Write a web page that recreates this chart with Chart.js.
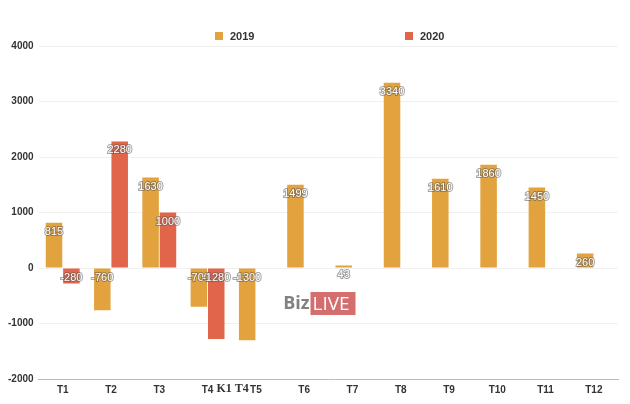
<!DOCTYPE html>
<html>
<head>
<meta charset="utf-8">
<script src="https://cdn.jsdelivr.net/npm/chart.js@4"></script>
<style>
  html, body { margin: 0; padding: 0; background: #fff; }
  #wrap { width: 630px; height: 404px; }
</style>
</head>
<body>
<div id="wrap"><canvas id="chart" width="630" height="404"></canvas></div>
<script>
const months = ["T1", "T2", "T3", "T4", "T5", "T6", "T7", "T8", "T9", "T10", "T11", "T12"];
const values2019 = [815, -760, 1630, -700, -1300, 1499, 43, 3340, 1610, 1860, 1450, 260];
const values2020 = [-280, 2280, 1000, -1280, null, null, null, null, null, null, null, null];
const yTicks = [-2000, -1000, 0, 1000, 2000, 3000, 4000];

const orange = "#E2A33F";
const red = "#E0654A";
const font = "'Liberation Sans', Arial, sans-serif";

/* ---------- value labels on top of bars ---------- */
const barLabels = {
  id: "barLabels",
  afterDatasetsDraw(chart) {
    const ctx = chart.ctx;
    ctx.save();
    ctx.font = "11px " + font;
    ctx.textAlign = "center";
    ctx.textBaseline = "middle";
    chart.data.datasets.forEach((ds, i) => {
      chart.getDatasetMeta(i).data.forEach((bar, j) => {
        const v = ds.data[j];
        if (v === null) return;
        const y = Math.min(bar.y, bar.base) + 9;
        ctx.lineWidth = 2;
        ctx.strokeStyle = "rgba(90,90,90,0.55)";
        ctx.strokeText(String(v), bar.x, y);
        ctx.fillStyle = "#fff";
        ctx.fillText(String(v), bar.x, y);
      });
    });
    ctx.restore();
  }
};

/* ---------- legend spread across the top ---------- */
const spreadLegend = {
  id: "spreadLegend",
  afterDraw(chart) {
    const ctx = chart.ctx;
    const starts = [215, 405];
    ctx.save();
    ctx.font = "bold 11px " + font;
    ctx.textBaseline = "middle";
    chart.data.datasets.forEach((ds, i) => {
      const x = starts[i];
      ctx.fillStyle = ds.backgroundColor;
      ctx.fillRect(x, 32, 8, 8);
      ctx.fillStyle = "#333";
      ctx.fillText(ds.label, x + 15, 36.5);
    });
    ctx.restore();
  }
};

/* ---------- K1 T4 note + BizLIVE mark ---------- */
const overlay = {
  id: "overlay",
  afterDraw(chart) {
    const ctx = chart.ctx;
    const x = chart.scales.x;
    const y = chart.scales.y;
    ctx.save();
    ctx.font = "bold 12px 'Liberation Serif', 'DejaVu Serif', serif";
    ctx.fillStyle = "#333";
    ctx.textAlign = "center";
    ctx.textBaseline = "middle";
    const x4 = x.getPixelForValue(3);
    ctx.fillText("K1 T4", x4 + 25, chart.chartArea.bottom + 10);

    const wx = x.getPixelForValue(5) - 21;
    const wy = y.getPixelForValue(-640);
    ctx.font = "bold 18px 'Open Sans', 'DejaVu Sans', sans-serif";
    ctx.textAlign = "left";
    ctx.fillStyle = "rgba(115,115,115,0.9)";
    ctx.fillText("Biz", wx, wy);
    const bw = ctx.measureText("Biz").width;
    ctx.fillStyle = "rgba(205,85,85,0.85)";
    ctx.fillRect(wx + bw + 1, wy - 11.5, 45, 23);
    ctx.font = "19px 'Open Sans', 'DejaVu Sans', sans-serif";
    ctx.fillStyle = "#fff";
    ctx.fillText("LIVE", wx + bw + 3, wy + 1);
    ctx.restore();
  }
};

new Chart(document.getElementById("chart"), {
  type: "bar",
  data: {
    labels: months,
    datasets: [
      { label: "2019", data: values2019, backgroundColor: orange, borderWidth: 0, categoryPercentage: 0.72, barPercentage: 0.95 },
      { label: "2020", data: values2020, backgroundColor: red, borderWidth: 0, categoryPercentage: 0.72, barPercentage: 0.95 }
    ]
  },
  options: {
    responsive: false,
    animation: false,
    layout: { padding: { top: 46, right: 12, left: 3, bottom: 11 } },
    plugins: {
      legend: { display: false },
      tooltip: { enabled: false }
    },
    scales: {
      x: {
        grid: { display: false },
        border: { color: "#bbb", width: 1 },
        ticks: { color: "#333", font: { family: font, size: 10, weight: "bold" }, padding: -3 }
      },
      y: {
        min: -2000,
        max: 4000,
        afterBuildTicks: axis => { axis.ticks = yTicks.map(v => ({ value: v })); },
        grid: { color: "#f0f0f0", drawTicks: false },
        border: { display: false },
        ticks: {
          color: "#333",
          font: { family: font, size: 10, weight: "bold" },
          padding: 5,
          callback: v => String(v)
        }
      }
    }
  },
  plugins: [barLabels, spreadLegend, overlay]
});
</script>
</body>
</html>
